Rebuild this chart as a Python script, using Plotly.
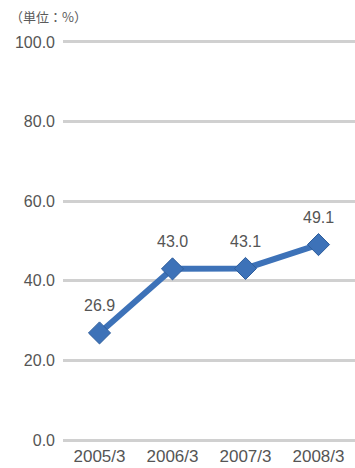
import plotly.graph_objects as go

categories = ["2005/3", "2006/3", "2007/3", "2008/3"]
values = [26.9, 43.0, 43.1, 49.1]
y_ticks = [0, 20, 40, 60, 80, 100]
y_tick_labels = ["0.0", "20.0", "40.0", "60.0", "80.0", "100.0"]

FONT = "Liberation Sans, Arial, sans-serif"
TXT = "#555555"

fig = go.Figure()
fig.add_trace(go.Scatter(
    x=categories, y=values,
    mode="lines+markers",
    line=dict(color="#3d72b8", width=6),
    marker=dict(symbol="diamond", size=17, color="#3d72b8",
                line=dict(color="#2f5e9c", width=1)),
    showlegend=False,
))

annots = [dict(
    x=c, y=v, xref="x", yref="y", text=f"{v:.1f}",
    showarrow=False, yshift=27, yanchor="middle",
    font=dict(family=FONT, size=16, color=TXT),
) for c, v in zip(categories, values)]

annots.append(dict(
    text="（単位：%）", xref="paper", yref="paper",
    x=-55/292, y=1 + 24/402, xanchor="left", yanchor="middle",
    showarrow=False,
    font=dict(family="Noto Sans CJK JP, sans-serif", size=13, color="#5a5a5a"),
))

fig.update_layout(
    width=355, height=468,
    margin=dict(l=63, r=0, t=40, b=26),
    paper_bgcolor="white", plot_bgcolor="white",
    font=dict(family=FONT, size=16, color=TXT),
    xaxis=dict(
        type="category", range=[-0.5, 3.5],
        showgrid=False, zeroline=False, showline=False,
        ticks="", ticklabelstandoff=2,
        tickfont=dict(size=17, color=TXT),
    ),
    yaxis=dict(
        range=[-0.5, 100.5], tickvals=y_ticks, ticktext=y_tick_labels,
        showgrid=True, gridcolor="#d0d0d0", gridwidth=3,
        zeroline=False, showline=False, ticks="",
        ticklabelstandoff=7,
        tickfont=dict(size=16, color=TXT),
    ),
    annotations=annots,
)

fig.write_html("out.html")
